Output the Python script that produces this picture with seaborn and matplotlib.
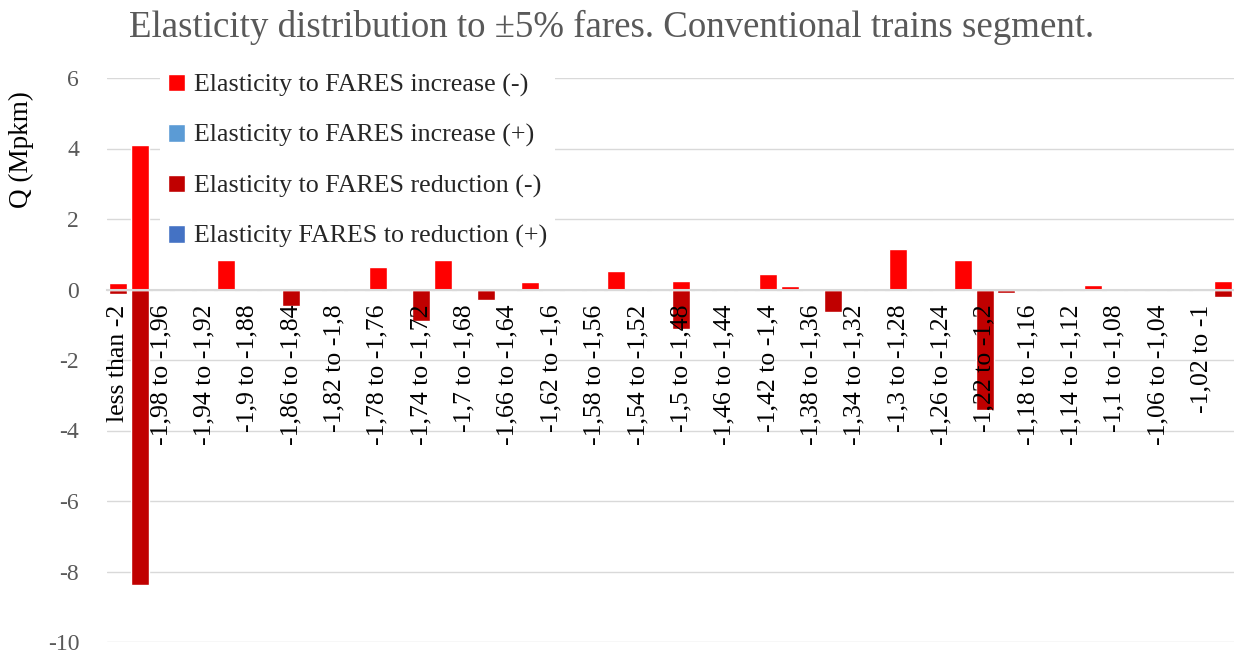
import pandas as pd
import seaborn as sns
import matplotlib.pyplot as plt

# Categories (elasticity bins); only every other label is shown on the axis
categories = [
    "less than -2", "-2 to -1,98", "-1,98 to -1,96", "-1,96 to -1,94",
    "-1,94 to -1,92", "-1,92 to -1,9", "-1,9 to -1,88", "-1,88 to -1,86",
    "-1,86 to -1,84", "-1,84 to -1,82", "-1,82 to -1,8", "-1,8 to -1,78",
    "-1,78 to -1,76", "-1,76 to -1,74", "-1,74 to -1,72", "-1,72 to -1,7",
    "-1,7 to -1,68", "-1,68 to -1,66", "-1,66 to -1,64", "-1,64 to -1,62",
    "-1,62 to -1,6", "-1,6 to -1,58", "-1,58 to -1,56", "-1,56 to -1,54",
    "-1,54 to -1,52", "-1,52 to -1,5", "-1,5 to -1,48", "-1,48 to -1,46",
    "-1,46 to -1,44", "-1,44 to -1,42", "-1,42 to -1,4", "-1,4 to -1,38",
    "-1,38 to -1,36", "-1,36 to -1,34", "-1,34 to -1,32", "-1,32 to -1,3",
    "-1,3 to -1,28", "-1,28 to -1,26", "-1,26 to -1,24", "-1,24 to -1,22",
    "-1,22 to -1,2", "-1,2 to -1,18", "-1,18 to -1,16", "-1,16 to -1,14",
    "-1,14 to -1,12", "-1,12 to -1,1", "-1,1 to -1,08", "-1,08 to -1,06",
    "-1,06 to -1,04", "-1,04 to -1,02", "-1,02 to -1", "more than -1",
]

series_names = [
    "Elasticity to FARES increase (-)",
    "Elasticity to FARES increase (+)",
    "Elasticity to FARES reduction (-)",
    "Elasticity FARES to reduction (+)",
]
series_colors = ["#FF0000", "#5B9BD5", "#C00000", "#4472C4"]

# Q (Mpkm) per category
increase_neg = [
    0.18, 4.11, 0, 0, 0, 0.85, 0, 0, 0, 0,
    0, 0, 0.63, 0, 0, 0.85, 0, 0, 0, 0.21,
    0, 0, 0, 0.52, 0, 0, 0.24, 0, 0, 0,
    0.43, 0.10, 0, 0, 0, 0, 1.15, 0, 0, 0.83,
    0, 0, 0, 0, 0, 0.12, 0, 0, 0, 0,
    0, 0.25,
]
increase_pos = [
    0, 0, 0, 0, 0, 0, 0, 0, 0, 0,
    0, 0, 0, 0, 0, 0, 0, 0, 0, 0,
    0, 0, 0, 0, 0, 0, 0, 0, 0, 0,
    0, 0, 0, 0, 0, 0, 0, 0, 0, 0,
    0, 0, 0, 0, 0, 0, 0, 0, 0, 0,
    0, 0,
]
reduction_neg = [
    -0.13, -8.39, 0, 0, 0, 0, 0, 0, -0.47, 0,
    0, 0, 0, 0, -0.88, 0, 0, -0.29, 0, 0,
    0, 0, 0, 0, 0, 0, -1.13, 0, 0, 0,
    0, 0, 0, -0.63, 0, 0, 0, 0, 0, 0,
    -3.42, -0.10, 0, 0, 0, 0, 0, 0, 0, 0,
    0, -0.22,
]
reduction_pos = [
    0, 0, 0, 0, 0, 0, 0, 0, 0, 0,
    0, 0, 0, 0, 0, 0, 0, 0, 0, 0,
    0, 0, 0, 0, 0, 0, 0, 0, 0, 0,
    0, 0, 0, 0, 0, 0, 0, 0, 0, 0,
    0, 0, 0, 0, 0, 0, 0, 0, 0, 0,
    0, 0,
]

y_ticks = [-10, -8, -6, -4, -2, 0, 2, 4, 6]

# Long table for seaborn
frames = []
for name, vals in zip(series_names, [increase_neg, increase_pos, reduction_neg, reduction_pos]):
    frames.append(pd.DataFrame({"category": categories, "series": name, "value": vals}))
df = pd.concat(frames, ignore_index=True)

sns.set_theme(style="white")
plt.rcParams["font.family"] = ["Liberation Serif", "DejaVu Sans"]

fig = plt.figure(figsize=(12.34, 6.55), dpi=100)
ax = fig.add_axes([107 / 1234, 13 / 655, 1 - 107 / 1234, (642 - 78) / 655])

sns.barplot(
    data=df, x="category", y="value", hue="series",
    order=categories, hue_order=series_names, palette=series_colors,
    dodge=False, width=0.83, saturation=1, errorbar=None, ax=ax,
)

# category axis sits on the zero line (set before styling the tick labels)
for side in ["top", "right", "left"]:
    ax.spines[side].set_visible(False)
ax.spines["bottom"].set_position(("data", 0))
ax.spines["bottom"].set_color("#D9D9D9")
ax.spines["bottom"].set_linewidth(1.5)

ax.set_xlim(-0.5, len(categories) - 0.5)
ax.set_ylim(-10, 6)
ax.set_yticks(y_ticks)
ax.set_yticklabels([str(t) for t in y_ticks], color="#595959", fontsize=17)
ax.tick_params(axis="y", length=0, pad=20)

ax.set_xticks(range(0, len(categories), 2))
ax.set_xticklabels(categories[::2], fontsize=18.5, color="black")
ax.tick_params(axis="x", length=0, pad=11, labelrotation=90)

ax.set_xlabel("")
ax.set_ylabel("")
ax.yaxis.grid(True, color="#D9D9D9", linewidth=1)
ax.set_axisbelow(True)
# gridlines under the bars, but category labels drawn over them
ax.xaxis.set_zorder(2.5)

handles, labels = ax.get_legend_handles_labels()
ax.get_legend().remove()
leg = fig.legend(
    handles, labels, loc="upper left", bbox_to_anchor=(160 / 1234, 1 - 66 / 655),
    fontsize=18.7, frameon=True, facecolor="white", edgecolor="none", framealpha=1,
    handlelength=0.65, handleheight=0.65, handletextpad=0.35, labelspacing=1.05,
    borderpad=0.3, borderaxespad=0,
)

fig.text(612 / 1234, 1 - 27 / 655,
         "Elasticity distribution to \u00b15% fares. Conventional trains segment.",
         ha="center", va="center", fontsize=26.6, color="#595959")
fig.text(21 / 1234, 1 - 150 / 655, "Q (Mpkm)", rotation=90,
         ha="center", va="center", fontsize=19.5, color="black")

plt.savefig("out.png", dpi=100)
plt.close()
